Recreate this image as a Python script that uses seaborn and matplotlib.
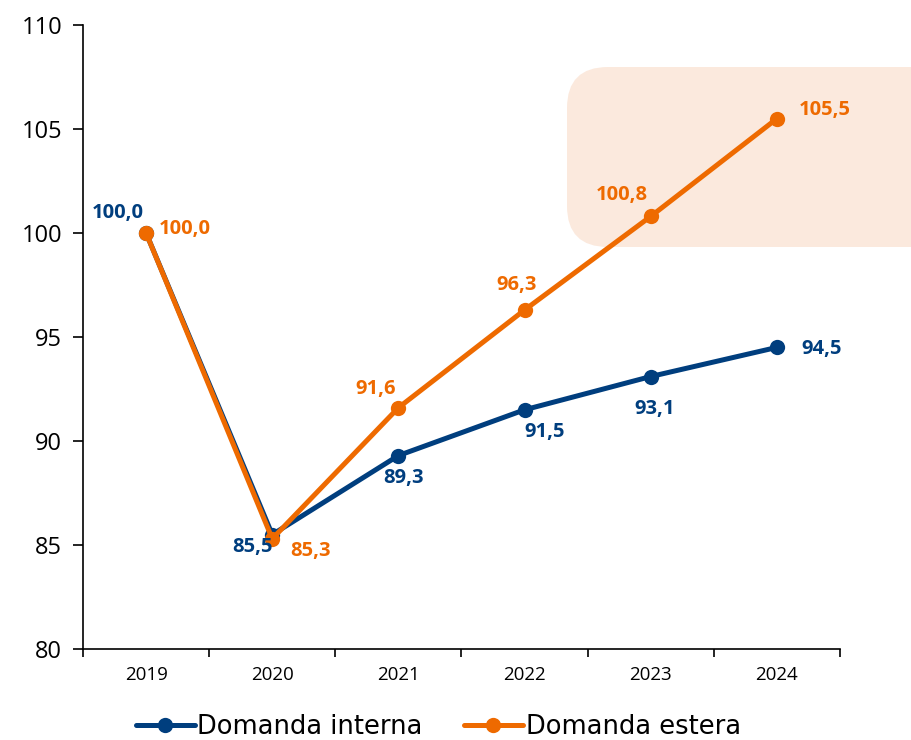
import matplotlib
matplotlib.use("Agg")
import matplotlib.pyplot as plt
from matplotlib.patches import FancyBboxPatch
import pandas as pd
import seaborn as sns

#####################################################################
# Data
#####################################################################
years = ["2019", "2020", "2021", "2022", "2023", "2024"]
interna = [100.0, 85.5, 89.3, 91.5, 93.1, 94.5]
estera = [100.0, 85.3, 91.6, 96.3, 100.8, 105.5]
series_names = ["Domanda interna", "Domanda estera"]

BLUE = "#003E7E"
ORANGE = "#EE6A00"

# label offsets in pixels (dx, dy) for each point
off_interna = [(-28, 20), (-20, -12), (5, -22), (20, -22), (4, -32), (45, -2)]
off_estera = [(39, 4), (38, -12), (-23, 19), (-8, 25), (-29, 21), (48, 9)]

df = pd.DataFrame({
    "pos": list(range(len(years))) * 2,
    "value": interna + estera,
    "serie": [series_names[0]] * len(years) + [series_names[1]] * len(years),
})

#####################################################################
# Plot
#####################################################################
sns.set_style("white")
plt.rcParams["font.family"] = ["Open Sans", "DejaVu Sans"]

fig = plt.figure(figsize=(9.11, 7.4), dpi=100)
ax = fig.add_axes([83 / 911, 1 - 649 / 740, (840 - 83) / 911, (649 - 25) / 740])
ax.patch.set_alpha(0)

# shaded highlight box (figure coords, extends past the axes)
box = FancyBboxPatch((567 / 911, 1 - 247 / 740), 400 / 911, 180 / 740,
                     boxstyle="round,pad=0,rounding_size=0.045",
                     transform=fig.transFigure, facecolor="#FBE9DD",
                     edgecolor="none", zorder=0, clip_on=False,
                     mutation_aspect=911 / 740)
ax.add_artist(box)

sns.lineplot(data=df, x="pos", y="value", hue="serie",
             palette=[BLUE, ORANGE], marker="o", markersize=11,
             markeredgewidth=0, linewidth=3.6, ax=ax, legend=True, zorder=3)

for vals, offs, col in [(interna, off_interna, BLUE), (estera, off_estera, ORANGE)]:
    for i, (v, (dx, dy)) in enumerate(zip(vals, offs)):
        ax.annotate("{:.1f}".format(v).replace(".", ","), (i, v),
                    xytext=(dx, dy), textcoords="offset pixels",
                    ha="center", va="center", color=col,
                    fontsize=14.5, fontweight="bold", zorder=4)

ax.set_xlim(-0.5, len(years) - 0.5)
ax.set_ylim(80, 110)
ax.set_yticks([80, 85, 90, 95, 100, 105, 110])
ax.set_xticks([i - 0.5 for i in range(len(years) + 1)])
ax.set_xticklabels([])
ax.set_xticks(range(len(years)), minor=True)
ax.set_xticklabels(years, minor=True)
ax.tick_params(axis="x", which="major", bottom=True, direction="out", length=6,
               width=1.2, color="black")
ax.tick_params(axis="x", which="minor", bottom=False, length=0, pad=12,
               labelsize=13.5, labelcolor="black")
ax.tick_params(axis="y", left=True, direction="out", length=7, width=1.2,
               color="black", labelsize=17, pad=8, labelcolor="black")
ax.set_xlabel("")
ax.set_ylabel("")
for s in ["top", "right"]:
    ax.spines[s].set_visible(False)
for s in ["left", "bottom"]:
    ax.spines[s].set_color("black")
    ax.spines[s].set_linewidth(1.2)

handles, labels = ax.get_legend_handles_labels()
ax.legend(handles, labels, loc="center", bbox_to_anchor=(0.481, 1 - 727 / 740),
          bbox_transform=fig.transFigure, ncol=2, frameon=False,
          handlelength=2.3, columnspacing=1.6, handletextpad=0.1,
          labelcolor="black",
          prop={"family": ["DejaVu Sans"], "size": 18.5})

fig.savefig("out.png", dpi=100)
plt.close()
